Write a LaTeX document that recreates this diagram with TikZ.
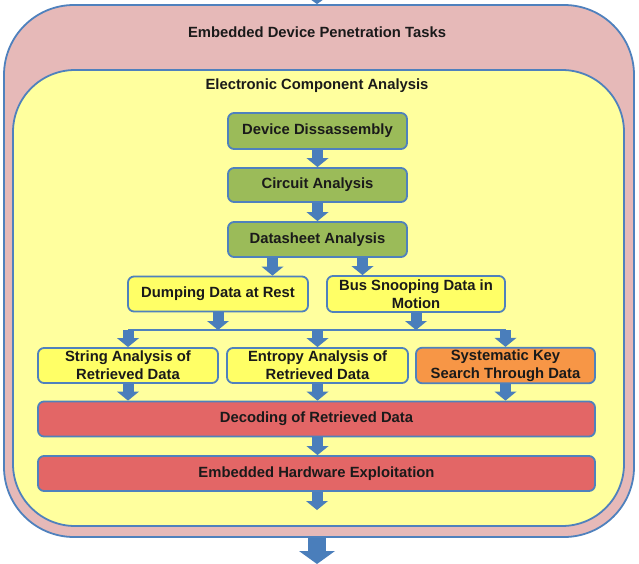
\documentclass[tikz,border=0pt]{standalone}
\usepackage{fontspec}
\setmainfont{Liberation Sans}
\usetikzlibrary{arrows.meta}
\definecolor{pinkbg}{HTML}{E6B9B8}
\definecolor{panelbg}{HTML}{FFFF9E}
\definecolor{ybox}{HTML}{FFFF66}
\definecolor{gbox}{HTML}{9BBB59}
\definecolor{obox}{HTML}{F79646}
\definecolor{rbox}{HTML}{E36666}
\definecolor{edgeblue}{HTML}{4F81BD}
\definecolor{arrowblue}{HTML}{4A7EBB}
\definecolor{txt}{HTML}{1A1A1A}
\tikzset{
  txtfont/.style={font=\fontsize{14.8}{17.6}\selectfont\bfseries, text=txt},
  container/.style={draw=edgeblue, line width=1.8pt, inner sep=0pt},
  taskbox/.style={draw=edgeblue, line width=1.8pt, rounded corners=6pt, align=center, inner sep=2pt, txtfont},
  greenbox/.style={taskbox, fill=gbox, minimum width=179pt},
  yellowbox/.style={taskbox, fill=ybox},
  orangebox/.style={taskbox, fill=obox},
  redbox/.style={taskbox, fill=rbox, minimum width=557pt, minimum height=35pt},
  flowarrow/.style={draw=arrowblue, line width=11pt, -{Triangle[width=22pt,length=9pt,line width=0pt]}},
  bigarrow/.style={draw=arrowblue, line width=18pt, -{Triangle[width=36pt,length=13pt,line width=0pt]}},
  joinline/.style={draw=edgeblue, line width=2pt}
}
\begin{document}
\begin{tikzpicture}[x=1pt,y=-1pt]
\clip (0,0) rectangle (639,564);
\fill[white] (0,0) rectangle (639,564);

% containers
\node[container, fill=pinkbg, rounded corners=70pt, minimum width=630pt, minimum height=532pt] (outer) at (319,271) {};
\node[container, fill=panelbg, rounded corners=62pt, minimum width=611pt, minimum height=456pt] (panel) at (318.5,298) {};
\node[txtfont] (outertitle) at (317,32) {Embedded Device Penetration Tasks};
\node[txtfont] (paneltitle) at (317,86) {Electronic Component Analysis};

% boxes
\node[greenbox, minimum height=36pt] (dev) at (317.5,131) {Device Dissassembly};
\node[greenbox, minimum height=34pt] (circ) at (317.5,185) {Circuit Analysis};
\node[greenbox, minimum height=35pt] (ds) at (317.5,239.5) {Datasheet Analysis};

\node[yellowbox, minimum width=180pt, minimum height=35pt] (dump) at (218,294) {Dumping Data at Rest};
\node[yellowbox, minimum width=178pt, minimum height=36pt] (bus) at (416,294) {Bus Snooping Data in\\Motion};

\node[yellowbox, minimum width=180pt, minimum height=35pt] (str) at (128,365.5) {String Analysis of\\Retrieved Data};
\node[yellowbox, minimum width=181pt, minimum height=35pt] (ent) at (317.5,365.5) {Entropy Analysis of\\Retrieved Data};
\node[orangebox, minimum width=179pt, minimum height=35pt] (sys) at (505.5,365.5) {Systematic Key\\Search Through Data};

\node[redbox] (dec) at (316.5,419) {Decoding of Retrieved Data};
\node[redbox] (exp) at (316.5,473.5) {Embedded Hardware Exploitation};

% helper coordinates
\coordinate (topin) at (317,-40);
\coordinate (botout) at (317,564);
\coordinate (hl) at (0,330);
\coordinate (expout) at (317,510);

% connectors
\draw[bigarrow] (topin) -- (topin |- outer.north);
\draw[bigarrow] (outer.south -| botout) -- (botout);

\draw[flowarrow] (dev.south) -- (circ.north);
\draw[flowarrow] (circ.south) -- (ds.north);
\draw[flowarrow] ([xshift=-45pt]ds.south) -- ([xshift=-45pt]ds.south |- dump.north);
\draw[flowarrow] ([xshift=45pt]ds.south) -- ([xshift=45pt]ds.south |- bus.north);

\draw[joinline] (str.north |- hl) -- (sys.north |- hl);
\draw[flowarrow] (dump.south) -- (dump.south |- hl);
\draw[flowarrow] (bus.south) -- (bus.south |- hl);
\draw[flowarrow] (str.north |- hl) -- (str.north);
\draw[flowarrow] (ent.north |- hl) -- (ent.north);
\draw[flowarrow] (sys.north |- hl) -- (sys.north);

\draw[flowarrow] (str.south) -- (str.south |- dec.north);
\draw[flowarrow] (ent.south) -- (ent.south |- dec.north);
\draw[flowarrow] (sys.south) -- (sys.south |- dec.north);
\draw[flowarrow] (dec.south -| ent.south) -- (exp.north -| ent.south);
\draw[flowarrow] (exp.south -| expout) -- (expout);
\end{tikzpicture}
\end{document}
